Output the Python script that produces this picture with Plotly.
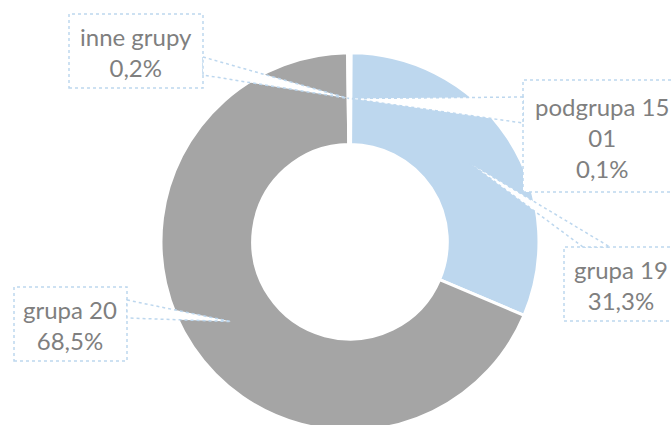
import math
import plotly.graph_objects as go

# ---- data ----
labels = ["podgrupa 15 01", "grupa 19", "grupa 20", "inne grupy"]
values = [0.1, 31.3, 68.5, 0.2]
label_texts = ["podgrupa 15<br>01<br>0,1%", "grupa 19<br>31,3%", "grupa 20<br>68,5%", "inne grupy<br>0,2%"]
slice_colors = ["#FFFFFF", "#BDD7EE", "#A5A5A5", "#FFFFFF"]

# ---- layout / styling ----
W, H = 672, 431              # a little taller than the window: donut is cut at the bottom
dom_x = [0.1708, 0.8708]
dom_y = [0.0007, 0.8777]
hole = 0.515
text_color = "#7F7F7F"
callout_color = "#BDD7EE"
font_family = "Lato, Carlito, 'Open Sans', sans-serif"
font_size = 24

# callout boxes (pixel geometry): box [x0, y0, x1, y1], text centre, two base points of the leader
callouts = [
    dict(box=[523, 80, 700, 192], text=(602, 137), base=[(523, 97), (523, 123)]),
    dict(box=[564, 247, 700, 321], text=(621, 285), base=[(583, 247), (610, 247)]),
    dict(box=[14, 287, 127, 361], text=(70, 325), base=[(127, 300), (127, 318)]),
    dict(box=[69, 14, 203, 88], text=(136, 52), base=[(203, 57), (203, 75)]),
]

def px(x, y):
    """pixels -> paper coordinates"""
    return x / W, 1 - y / H

fig = go.Figure(go.Pie(
    labels=labels,
    values=values,
    hole=hole,
    sort=False,
    direction="clockwise",
    rotation=0,
    textinfo="none",
    marker=dict(colors=slice_colors, line=dict(color="#FFFFFF", width=3)),
    domain=dict(x=dom_x, y=dom_y),
    showlegend=False,
    hoverinfo="label+percent",
))

# pie geometry in pixels (derived from the domain)
cx = (dom_x[0] + dom_x[1]) / 2 * W
cy = H - (dom_y[0] + dom_y[1]) / 2 * H
r_out = min((dom_x[1] - dom_x[0]) * W, (dom_y[1] - dom_y[0]) * H) / 2
r_mid = (r_out + hole * r_out) / 2

total = sum(values)
cum = 0.0
shapes = []
annotations = []
for v, txt, co in zip(values, label_texts, callouts):
    mid = (cum + v / 2) / total
    cum += v
    ang = 2 * math.pi * mid
    tx = cx + r_mid * math.sin(ang)
    ty = cy - r_mid * math.cos(ang)
    (b1x, b1y), (b2x, b2y) = co["base"]
    p1 = px(b1x, b1y); pt = px(tx, ty); p2 = px(b2x, b2y)
    x0, y0, x1, y1 = co["box"]
    q0 = px(x0, y0); q1 = px(x1, y1)
    shapes.append(dict(type="rect", xref="paper", yref="paper",
                       x0=q0[0], y0=q1[1], x1=q1[0], y1=q0[1],
                       fillcolor="#FFFFFF", layer="above",
                       line=dict(color=callout_color, width=1.5, dash="dot")))
    shapes.append(dict(type="path", xref="paper", yref="paper",
                       path=f"M {p1[0]} {p1[1]} L {pt[0]} {pt[1]} L {p2[0]} {p2[1]} Z",
                       fillcolor="#FFFFFF", layer="above",
                       line=dict(color=callout_color, width=1.5, dash="dot")))
    tc = px(*co["text"])
    annotations.append(dict(x=tc[0], y=tc[1], xref="paper", yref="paper",
                            text=txt, showarrow=False, align="center",
                            xanchor="center", yanchor="middle",
                            font=dict(family=font_family, size=font_size, color=text_color)))

fig.update_layout(
    width=W, height=H,
    margin=dict(l=0, r=0, t=0, b=0),
    paper_bgcolor="#FFFFFF",
    plot_bgcolor="#FFFFFF",
    shapes=shapes,
    annotations=annotations,
)

fig.write_html(
    "out.html",
    config={"displayModeBar": False},
    post_script="document.body.style.margin='0';document.body.style.overflow='hidden';",
)
